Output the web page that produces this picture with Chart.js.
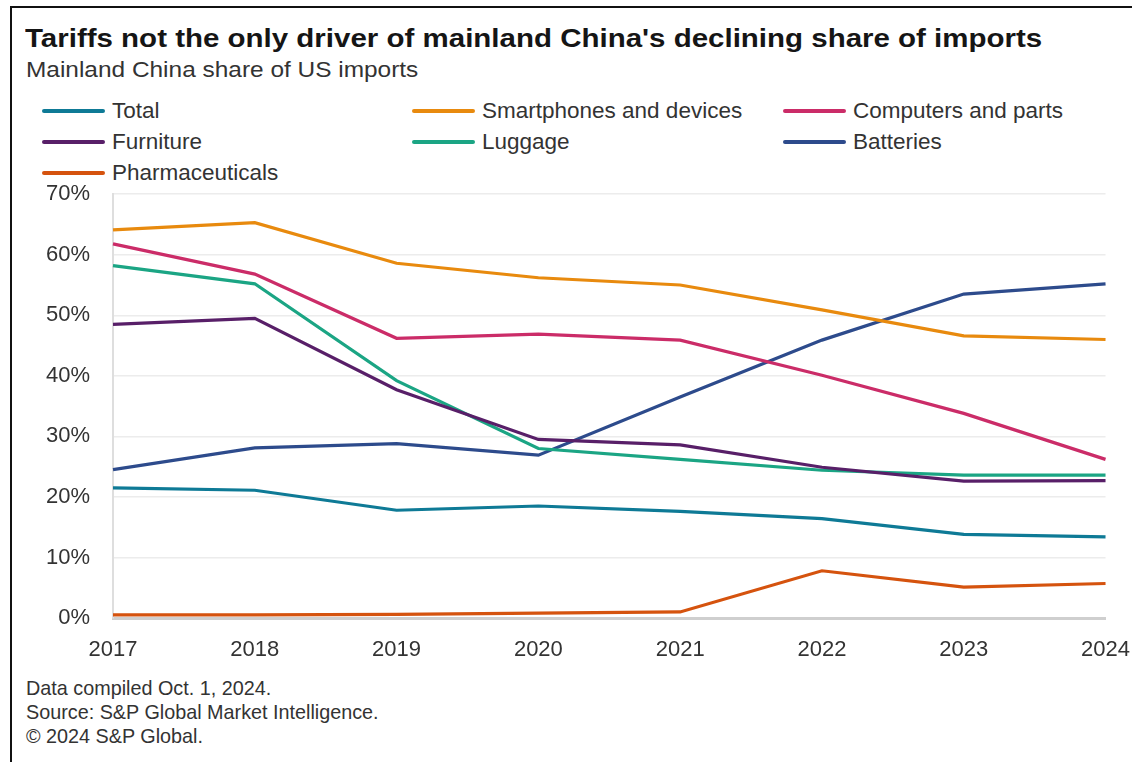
<!DOCTYPE html>
<html>
<head>
<meta charset="utf-8">
<script src="https://cdn.jsdelivr.net/npm/chart.js@4.4.1/dist/chart.umd.min.js"></script>
<style>
  html, body { margin: 0; padding: 0; background: #fff; }
  body { width: 1132px; height: 762px; position: relative; overflow: hidden;
         font-family: "Liberation Sans", Arial, sans-serif; color: #222; }
  .frame { position: absolute; left: 10px; top: 6px; width: 1140px; height: 800px;
           border-top: 2px solid #111; border-left: 2px solid #111; }
  #title { position: absolute; left: 25px; top: 23px; font-size: 26px; font-weight: bold;
           color: #151515; white-space: nowrap; transform: scaleX(1.134); transform-origin: 0 0; }
  #subtitle { position: absolute; left: 26px; top: 58px; font-size: 21.5px; color: #333;
              white-space: nowrap; transform: scaleX(1.136); transform-origin: 0 0; }
  #legend { position: absolute; left: 0; top: 0; }
  .item { position: absolute; font-size: 22.5px; color: #333; white-space: nowrap; height: 24px; line-height: 24px; }
  .item i { position: absolute; left: 0; top: 10px; width: 63px; height: 4px; border-radius: 2px; }
  .item span { position: absolute; left: 70px; top: 0; }
  #wrap { position: absolute; left: 0; top: 158px; width: 1149px; height: 512px; }
  .note { position: absolute; left: 26px; font-size: 19.8px; color: #333; white-space: nowrap; }
</style>
</head>
<body>
<div class="frame"></div>
<div id="title">Tariffs not the only driver of mainland China's declining share of imports</div>
<div id="subtitle">Mainland China share of US imports</div>
<div id="legend"></div>
<div id="wrap"><canvas id="chart"></canvas></div>
<div class="note" style="top:677px">Data compiled Oct. 1, 2024.</div>
<div class="note" style="top:701px">Source: S&amp;P Global Market Intelligence.</div>
<div class="note" style="top:725px">&copy; 2024 S&amp;P Global.</div>

<script>
/* ===== DATA ===== */
const YEARS = ["2017", "2018", "2019", "2020", "2021", "2022", "2023", "2024"];

const total = [21.5, 21.1, 17.8, 18.5, 17.6, 16.4, 13.8, 13.4];
const smartphones = [64.1, 65.3, 58.6, 56.2, 55.0, 50.9, 46.6, 46.0];
const computers = [61.8, 56.8, 46.2, 46.9, 45.9, 40.1, 33.8, 26.2];
const furniture = [48.5, 49.5, 37.7, 29.5, 28.6, 24.9, 22.6, 22.7];
const luggage = [58.2, 55.2, 39.2, 28.0, 26.2, 24.4, 23.6, 23.6];
const batteries = [24.5, 28.1, 28.8, 26.9, 36.5, 45.9, 53.5, 55.2];
const pharma = [0.5, 0.5, 0.6, 0.8, 1.0, 7.8, 5.1, 5.7];

const Y_TICKS = [0, 10, 20, 30, 40, 50, 60, 70];

/* ===== SERIES ===== */
const series = [
  { label: "Total", data: total, color: "#0e7a96" },
  { label: "Smartphones and devices", data: smartphones, color: "#e88a0e" },
  { label: "Computers and parts", data: computers, color: "#cb2c68" },
  { label: "Furniture", data: furniture, color: "#581f68" },
  { label: "Luggage", data: luggage, color: "#1ba584" },
  { label: "Batteries", data: batteries, color: "#2d4b8c" },
  { label: "Pharmaceuticals", data: pharma, color: "#d5530e" },
];

/* ===== LEGEND (3 columns) ===== */
const legendEl = document.getElementById("legend");
const cols = [42, 412, 783];
const rows = [99, 130, 161];
series.forEach((s, i) => {
  const d = document.createElement("div");
  d.className = "item";
  d.style.left = cols[i % 3] + "px";
  d.style.top = rows[Math.floor(i / 3)] + "px";
  d.innerHTML = `<i style="background:${s.color}"></i><span>${s.label}</span>`;
  legendEl.appendChild(d);
});

/* ===== CHART ===== */
const tickFont = { family: "'Liberation Sans', Arial, sans-serif", size: 22 };

new Chart(document.getElementById("chart"), {
  type: "line",
  data: {
    labels: YEARS,
    datasets: series.map((s) => ({
      label: s.label,
      data: s.data,
      borderColor: s.color,
      backgroundColor: s.color,
      borderWidth: 3.2,
      pointRadius: 0,
      tension: 0,
    })),
  },
  options: {
    responsive: true,
    maintainAspectRatio: false,
    animation: false,
    layout: { autoPadding: false, padding: { top: 23, right: 27, left: 0, bottom: 0 } },
    plugins: { legend: { display: false }, tooltip: { enabled: false } },
    scales: {
      x: {
        offset: false,
        grid: { display: false, drawTicks: false },
        border: { color: "#cfcfcf", width: 3 },
        ticks: { color: "#333", font: tickFont, padding: 19, maxRotation: 0 },
        afterFit: (s) => { s.height = 52; },
      },
      y: {
        min: 0,
        max: 70,
        afterBuildTicks: (s) => { s.ticks = Y_TICKS.map((v) => ({ value: v })); },
        grid: { color: "#ececec", lineWidth: 1.5, drawTicks: false },
        border: { color: "#dedede", width: 2 },
        ticks: { color: "#333", font: tickFont, padding: 23, callback: (v) => v + "%" },
        afterFit: (s) => { s.width = 113; },
      },
    },
  },
});
</script>
</body>
</html>
